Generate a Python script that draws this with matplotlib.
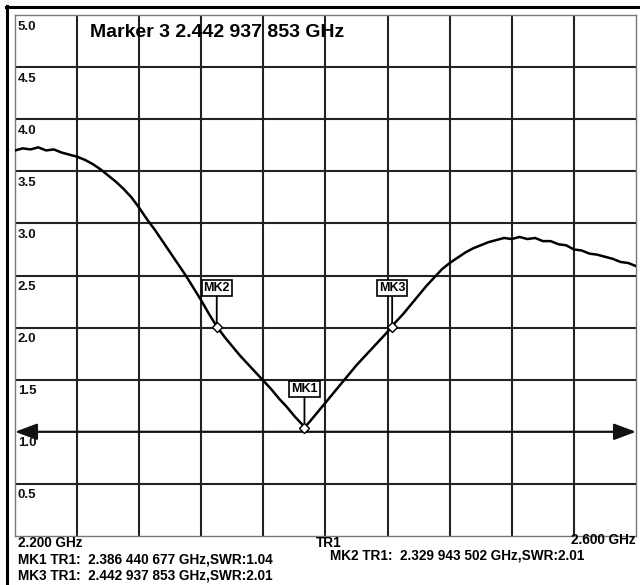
import matplotlib
matplotlib.use('Agg')
import matplotlib.pyplot as plt
from matplotlib.lines import Line2D
from matplotlib.patches import ArrowStyle

# ---- data ----
freq_ghz = [2.200, 2.205, 2.210, 2.215, 2.220, 2.225, 2.230, 2.235, 2.240, 2.245,
            2.250, 2.255, 2.260, 2.265, 2.270, 2.275, 2.280, 2.285, 2.290, 2.295,
            2.300, 2.305, 2.310, 2.315, 2.320, 2.325, 2.330, 2.335, 2.340, 2.345,
            2.350, 2.355, 2.360, 2.365, 2.370, 2.375, 2.380, 2.385, 2.3864, 2.390,
            2.395, 2.400, 2.405, 2.410, 2.415, 2.420, 2.425, 2.430, 2.435, 2.440,
            2.4429, 2.445, 2.450, 2.455, 2.460, 2.465, 2.470, 2.475, 2.480, 2.485,
            2.490, 2.495, 2.500, 2.505, 2.510, 2.515, 2.520, 2.525, 2.530, 2.535,
            2.540, 2.545, 2.550, 2.555, 2.560, 2.565, 2.570, 2.575, 2.580, 2.585,
            2.590, 2.595, 2.600]
swr = [3.70, 3.72, 3.71, 3.73, 3.70, 3.71, 3.68, 3.66, 3.64, 3.61,
       3.57, 3.52, 3.46, 3.40, 3.33, 3.25, 3.15, 3.04, 2.94, 2.83,
       2.72, 2.61, 2.50, 2.38, 2.26, 2.13, 2.01, 1.91, 1.82, 1.73,
       1.65, 1.57, 1.49, 1.41, 1.32, 1.24, 1.15, 1.07, 1.04, 1.10,
       1.19, 1.28, 1.37, 1.46, 1.55, 1.64, 1.72, 1.80, 1.88, 1.96,
       2.01, 2.05, 2.13, 2.22, 2.31, 2.40, 2.48, 2.56, 2.62, 2.67,
       2.72, 2.76, 2.79, 2.82, 2.84, 2.86, 2.85, 2.87, 2.85, 2.86,
       2.83, 2.83, 2.80, 2.79, 2.75, 2.74, 2.71, 2.70, 2.68, 2.66,
       2.63, 2.62, 2.59]

marker_names = ['MK1', 'MK2', 'MK3']
marker_freq = [2.386440677, 2.329943502, 2.442937853]
marker_swr = [1.04, 2.01, 2.01]

x_grid = [2.24, 2.28, 2.32, 2.36, 2.40, 2.44, 2.48, 2.52, 2.56]
y_grid = [0.5, 1.0, 1.5, 2.0, 2.5, 3.0, 3.5, 4.0, 4.5]
y_labels = ['5.0', '4.5', '4.0', '3.5', '3.0', '2.5', '2.0', '1.5', '1.0', '0.5']
y_label_vals = [5.0, 4.5, 4.0, 3.5, 3.0, 2.5, 2.0, 1.5, 1.0, 0.5]

title = 'Marker 3 2.442 937 853 GHz'
start_label = '2.200 GHz'
stop_label = '2.600 GHz'
trace_label = 'TR1'
readouts = ['MK1 TR1:  2.386 440 677 GHz,SWR:1.04',
            'MK2 TR1:  2.329 943 502 GHz,SWR:2.01',
            'MK3 TR1:  2.442 937 853 GHz,SWR:2.01']

plt.rcParams['font.family'] = ['Liberation Sans', 'DejaVu Sans']

W, H = 640, 585
fig = plt.figure(figsize=(W / 100, H / 100), dpi=100)
fig.patch.set_facecolor('white')

def fx(px):
    return px / W

def fy(py):
    return 1 - py / H

ax = fig.add_axes([fx(15), fy(536), (636 - 15) / W, (536 - 15) / H])
ax.set_xlim(2.2, 2.6)
ax.set_ylim(0, 5)
ax.set_xticks([])
ax.set_yticks([])
for s in ax.spines.values():
    s.set_color('#777777')
    s.set_linewidth(1.0)

for xv in x_grid:
    ax.axvline(xv, color='#222222', lw=1.5, zorder=1)
for yv in y_grid:
    if yv == 1.0:
        continue
    ax.axhline(yv, color='#222222', lw=1.5, zorder=1)

# reference line with arrows at 1.0
ax.annotate('', xy=(2.6, 1.0), xytext=(2.2, 1.0), xycoords='data',
            arrowprops=dict(arrowstyle=ArrowStyle('<|-|>', head_length=0.75, head_width=0.28),
                            mutation_scale=18, color='#111111', lw=1.6,
                            shrinkA=0, shrinkB=0), zorder=2)

# y labels inside the plot
for lab, v in zip(y_labels, y_label_vals):
    ax.annotate(lab, xy=(2.2, v), xytext=(2, -4), textcoords='offset points',
                ha='left', va='top', fontsize=9.5, fontweight='bold', color='#111111')

# trace
ax.plot(freq_ghz, swr, color='black', lw=1.8, zorder=3)

# markers
ax.plot(marker_freq, marker_swr, linestyle='none', marker='D', ms=5,
        mfc='white', mec='black', mew=1.0, zorder=5)
for name, f, s in zip(marker_names, marker_freq, marker_swr):
    ax.annotate(name, xy=(f, s), xytext=(0, 28), textcoords='offset points',
                ha='center', va='center', fontsize=9, fontweight='bold', color='black',
                bbox=dict(boxstyle='square,pad=0.15', fc='white', ec='black', lw=1.2),
                arrowprops=dict(arrowstyle='-', color='black', lw=1.3,
                                shrinkA=0, shrinkB=3), zorder=6)

# title
fig.text(fx(90), fy(37), title, fontsize=14, fontweight='bold', ha='left', va='baseline')

# bottom texts
fs = 9.8
fig.text(fx(18), fy(547), start_label, fontsize=fs, fontweight='bold', ha='left', va='baseline')
fig.text(fx(329), fy(547), trace_label, fontsize=fs, fontweight='bold', ha='center', va='baseline')
fig.text(fx(636), fy(544), stop_label, fontsize=fs, fontweight='bold', ha='right', va='baseline')
fig.text(fx(18), fy(563), readouts[0], fontsize=fs, fontweight='bold', ha='left', va='baseline')
fig.text(fx(330), fy(559), readouts[1], fontsize=fs, fontweight='bold', ha='left', va='baseline')
fig.text(fx(18), fy(579), readouts[2], fontsize=fs, fontweight='bold', ha='left', va='baseline')

# outer frame (top and left)
fig.add_artist(Line2D([fx(6), fx(640)], [fy(7), fy(7)], color='black', lw=2.2))
fig.add_artist(Line2D([fx(7), fx(7)], [fy(6), fy(585)], color='black', lw=2.2))

fig.savefig('out.png', dpi=100)
